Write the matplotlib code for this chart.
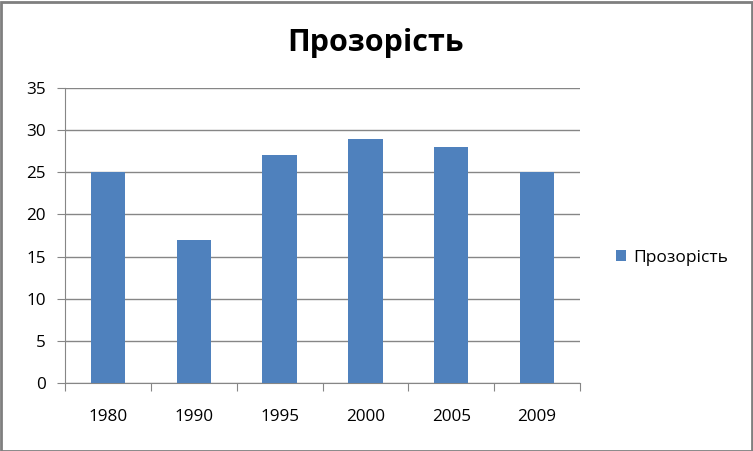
import matplotlib
matplotlib.use("Agg")
import matplotlib.pyplot as plt
from matplotlib.patches import Rectangle
import numpy as np

categories = ["1980", "1990", "1995", "2000", "2005", "2009"]
values = [25, 17, 27, 29, 28, 25]
series_name = "Прозорість"
title = "Прозорість"

plt.rcParams['font.family'] = ['Open Sans', 'DejaVu Sans']

fig = plt.figure(figsize=(7.53, 4.51), dpi=100)
fig.patch.set_facecolor("white")
ax = fig.add_axes([65/753, 1-383/451, (580-65)/753, (383-88)/451])

x = np.arange(len(categories))
ax.bar(x, values, width=0.4, color="#4F81BD", label=series_name, zorder=3)

ax.set_xlim(-0.5, len(categories)-0.5)
ax.set_ylim(0, 35)
ax.set_yticks(np.arange(0, 36, 5))
ax.yaxis.grid(True, color="#868686", linewidth=1, zorder=0)
ax.set_axisbelow(True)

ax.set_xticks(np.arange(-0.5, len(categories), 1))
ax.set_xticklabels([])
ax.set_xticks(x, minor=True)
ax.set_xticklabels(categories, minor=True)
ax.tick_params(axis='x', which='major', length=6, color="#868686", direction='out')
ax.tick_params(axis='x', which='minor', length=0, pad=19, labelsize=12.3)
ax.tick_params(axis='y', length=6, color="#868686", pad=8, labelsize=12.3)

for s in ["top", "right"]:
    ax.spines[s].set_visible(False)
for s in ["left", "bottom"]:
    ax.spines[s].set_color("#868686")

fig.text(376/753, 1-43/451, title, ha="center", va="center", fontsize=22, fontweight="bold")

ax.legend(loc="center left", bbox_to_anchor=(600/753, 1-258/451), bbox_transform=fig.transFigure,
          frameon=False, fontsize=12.5, handlelength=0.6, handleheight=0.6, handletextpad=0.4)

fig.add_artist(Rectangle((0.5/753, 0.5/451), 751/753, 449/451, transform=fig.transFigure,
                         fill=False, edgecolor="#7F7F7F", linewidth=2))

fig.savefig("out.png", dpi=100)
